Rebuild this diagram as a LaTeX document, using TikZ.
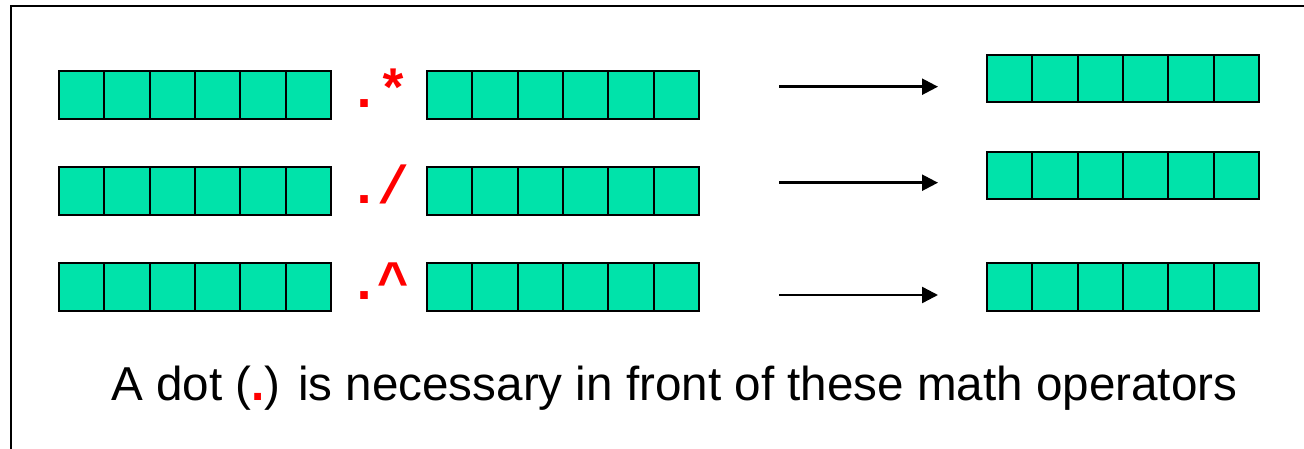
\documentclass[tikz,border=0pt]{standalone}
\usepackage{fontspec}
\setmainfont{Liberation Sans}
\newfontfamily\opfont{Liberation Mono}
\usetikzlibrary{arrows.meta,calc}
\definecolor{cellgreen}{RGB}{0,227,170}
\definecolor{opred}{RGB}{255,0,0}
\newcommand\cellarray[4]{% name, x, y top, height
  \node[arraybox, minimum height=#4*0.75pt, anchor=north west] (#1) at (#2,#3) {};
  \foreach \i in {1,...,5}{
    \draw[cellline] ($(#1.north west)+(\i*45.33,0)$) -- ($(#1.south west)+(\i*45.33,0)$);
  }
}
\begin{document}
\begin{tikzpicture}[x=0.75pt,y=-0.75pt,
  arraybox/.style={draw=black, fill=cellgreen, line width=1.6pt, inner sep=0pt, outer sep=0pt, minimum width=204pt},
  cellline/.style={draw=black, line width=1.3pt},
  optext/.style={anchor=base west, inner sep=0pt, text=opred, font=\opfont\bfseries\fontsize{40}{44}\selectfont},
  conn/.style={line width=1.8pt, -{Triangle[length=12pt,width=12pt]}},
  frame/.style={line width=1.5pt},
  caption/.style={anchor=base west, inner sep=0pt, font=\fontsize{35.7}{42}\selectfont}]
\useasboundingbox (0,0) rectangle (1304,449);
\draw[frame] (11,449) -- (11,6.5) -- (1304,6.5);
% row 1
\cellarray{l1}{59}{71}{48}
\cellarray{m1}{427}{71}{48}
\cellarray{r1}{987}{55}{47}
\node[optext] (o1) at (348,107.5) {.\kern-2.25pt*};
\coordinate (s1) at (779,86.7);
\coordinate (e1) at (938,86.7);
\draw[conn] (s1) -- (e1);
% row 2
\cellarray{l2}{59}{167}{48}
\cellarray{m2}{427}{167}{48}
\cellarray{r2}{987}{152}{47}
\node[optext] (o2) at (348,203.5) {.\kern-2.25pt/};
\coordinate (s2) at (779,182.7);
\coordinate (e2) at (938,182.7);
\draw[conn] (s2) -- (e2);
% row 3
\cellarray{l3}{59}{263}{48}
\cellarray{m3}{427}{263}{48}
\cellarray{r3}{987}{263}{48}
\node[optext] (o3) at (348,299.5) {.\kern-2.25pt\^{}};
\coordinate (s3) at (779,295);
\coordinate (e3) at (938,295);
\draw[conn] (s3) -- (e3);
% caption
\node[caption] (cap) at (111,400) {A dot ({\bfseries\color{opred}.}) is necessary in front of these math operators};
\end{tikzpicture}
\end{document}
